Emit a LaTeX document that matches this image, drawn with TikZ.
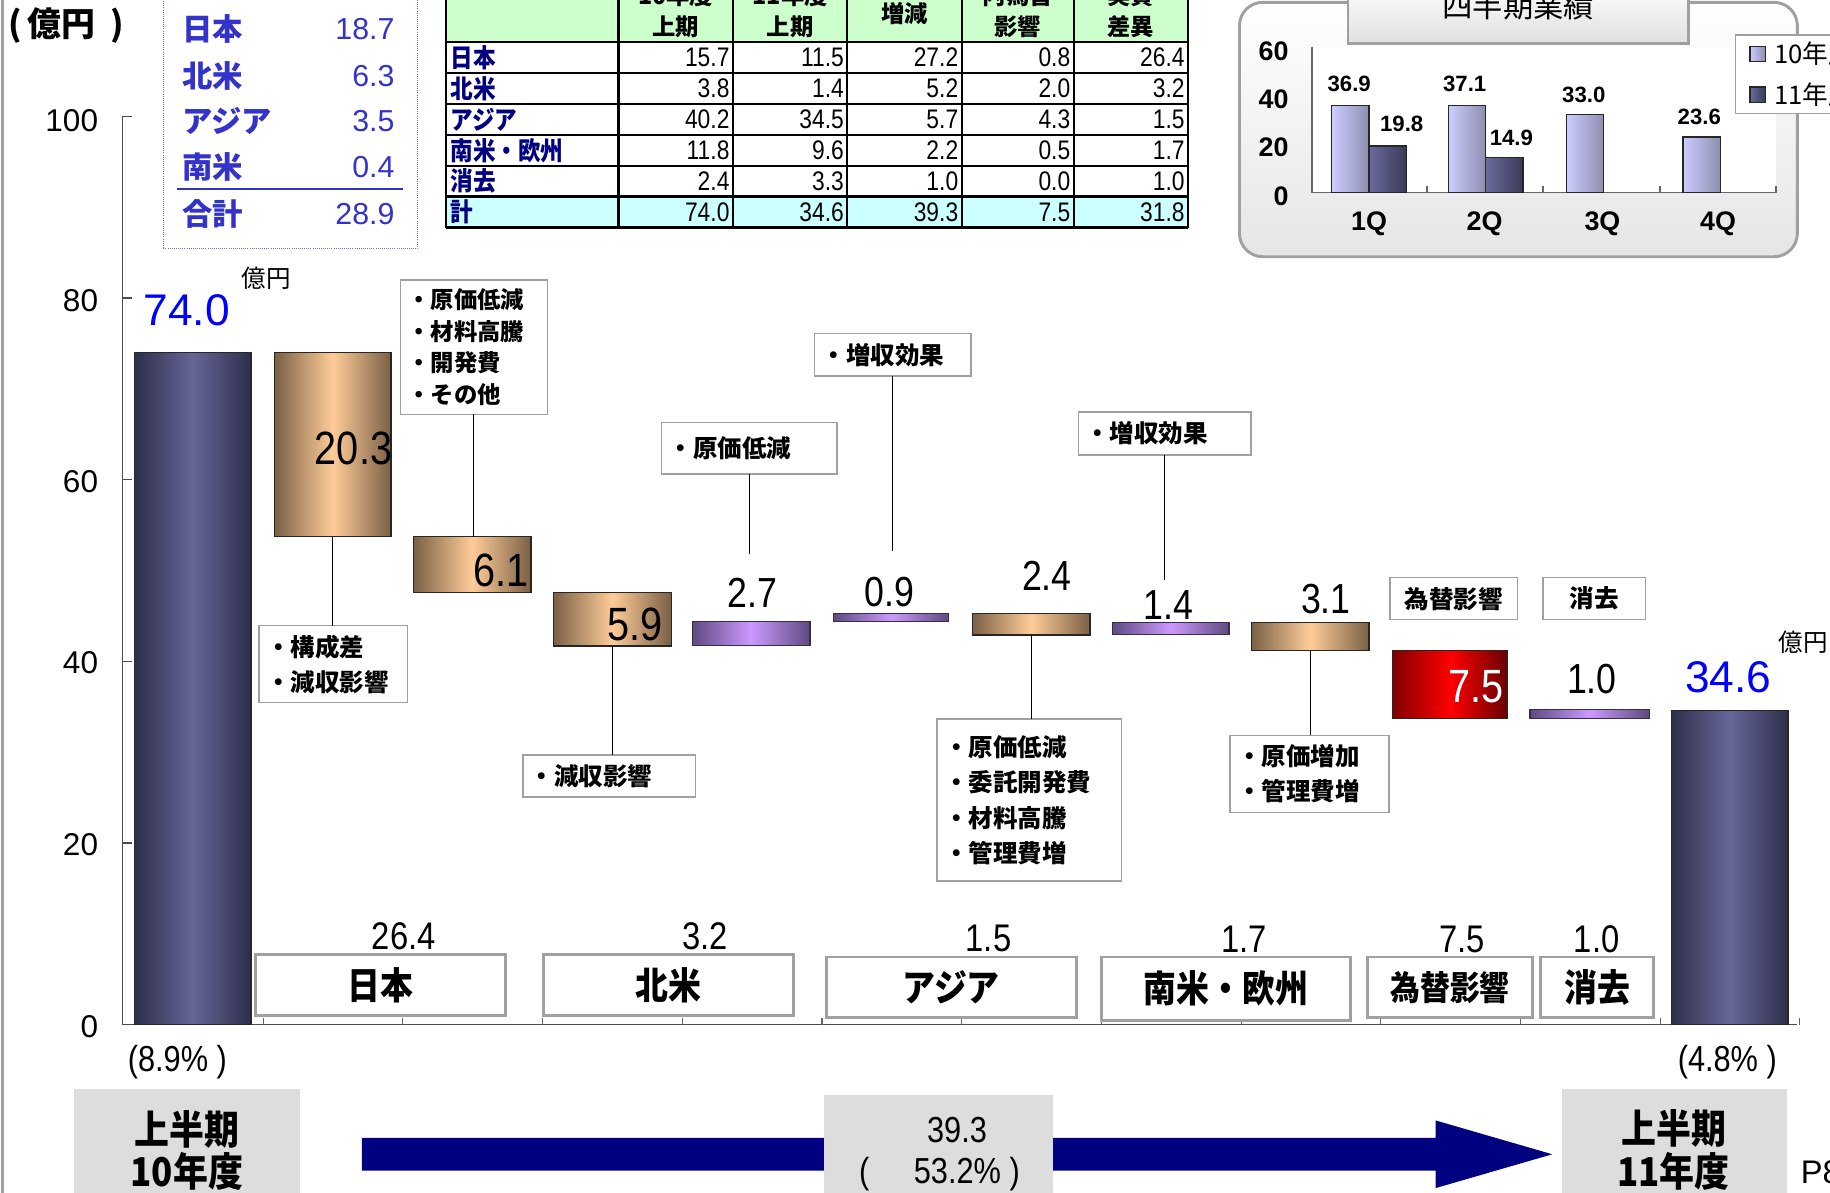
\documentclass[tikz,border=0pt]{standalone}
\usepackage{fontspec}
\setmainfont{Liberation Sans}
\newfontfamily\jpf{Noto Sans CJK JP}
\newfontfamily\jpnf[FakeStretch=0.88]{Noto Sans CJK JP}
\newfontfamily\narrowf[FakeStretch=0.85]{Liberation Sans}
\newcommand\fsz[2]{\fontsize{#1}{#2}\selectfont}
\usetikzlibrary{calc}
\definecolor{tanhi}{HTML}{FFCC99}
\definecolor{tanlo}{HTML}{7A6045}
\definecolor{navyhi}{HTML}{666699}
\definecolor{navylo}{HTML}{2E2E4A}
\definecolor{purhi}{HTML}{CC99FF}
\definecolor{purlo}{HTML}{5E4A80}
\definecolor{redhi}{HTML}{FF0000}
\definecolor{redlo}{HTML}{800000}
\definecolor{bxgray}{HTML}{A0A0A0}
\definecolor{bluetxt}{HTML}{3333CC}
\definecolor{tblname}{HTML}{000080}
\definecolor{hdrgreen}{HTML}{CCFFCC}
\definecolor{totcyan}{HTML}{CCFFFF}
\definecolor{graybox}{HTML}{DDDDDD}
\definecolor{qlight}{HTML}{CCCCFF}
\definecolor{qlightlo}{HTML}{8E8EB0}
\definecolor{qdark}{HTML}{6A6A9C}
\definecolor{qdarklo}{HTML}{3A3A58}
\definecolor{arrownavy}{HTML}{000080}
\definecolor{purebl}{HTML}{0000FF}
\begin{document}
\begin{tikzpicture}[x=1pt,y=-1pt,
  every node/.style={inner sep=0pt, outer sep=0pt},
  bar/.style={draw=black!85, line width=1pt, anchor=north west},
  navybar/.style={bar, left color=navylo, right color=navylo, middle color=navyhi},
  tanbar/.style={bar, left color=tanlo, right color=tanlo, middle color=tanhi},
  purbar/.style={bar, draw=purlo!60!black, left color=purlo, right color=purlo, middle color=purhi},
  redbar/.style={bar, left color=redlo, right color=redlo!120, middle color=redhi},
  annbox/.style={draw=bxgray, line width=1.2pt, fill=white, anchor=north west, inner xsep=6pt, inner ysep=0pt, align=left, font=\jpf\bfseries\fsz{21}{30}},
  catbox/.style={draw=bxgray, line width=2.5pt, fill=white, anchor=north west, font=\jpnf\bfseries\fsz{32}{32}},
  conn/.style={black, line width=0.8pt},
  val/.style={font=\narrowf\fsz{36}{36}},
  inval/.style={font=\narrowf\fsz{40}{40}, anchor=east},
  catval/.style={font=\narrowf\fsz{33}{33}},
  ylab/.style={font=\fsz{27}{27}, anchor=east},
  tnum/.style={font=\narrowf\fsz{23}{23}, anchor=east},
  thdr/.style={font=\jpf\bfseries\fsz{20}{20}},
  qlab/.style={font=\bfseries\fsz{19}{19}},
  qax/.style={font=\bfseries\fsz{23}{23}, anchor=east},
  qlbar/.style={draw=black!85, line width=1pt, anchor=south west, left color=qlight, right color=qlightlo, minimum width=32pt},
  qdbar/.style={draw=black!85, line width=1pt, anchor=south west, left color=qdark, right color=qdarklo, minimum width=32pt},
  bluelab/.style={font=\jpf\bfseries\fsz{26}{26}, text=bluetxt, anchor=west},
  blueval/.style={font=\fsz{26}{26}, text=bluetxt, anchor=east},
  grayb/.style={fill=graybox, anchor=north west, minimum height=110pt},
  graytxt/.style={font=\jpnf\bfseries\fsz{34}{34}}
]
\useasboundingbox (0,0) rectangle (1568,1022);

% left border
\draw[bxgray, line width=2.5pt] (2,-5) -- (2,1030);

% unit label
\node[font=\jpf\bfseries\fsz{29}{29}, anchor=west] (unit) at (7,22) {(\,億円\ \ )};

% blue summary box
\node[draw=bluetxt!70, densely dotted, line width=0.8pt, minimum width=218pt, minimum height=230pt, anchor=south west] (bluebox) at (140,213) {};
\node[bluelab] (bl1) at (156,25) {日本};   \node[blueval] (bv1) at (338,25) {18.7};
\node[bluelab] (bl2) at (156,65) {北米};   \node[blueval] (bv2) at (338,65) {6.3};
\node[bluelab] (bl3) at (156,104) {アジア}; \node[blueval] (bv3) at (338,104) {3.5};
\node[bluelab] (bl4) at (156,143) {南米};   \node[blueval] (bv4) at (338,143) {0.4};
\draw[bluetxt, line width=2pt] (152,162) -- (345,162);
\node[bluelab] (bl5) at (156,183) {合計};   \node[blueval] (bv5) at (338,183) {28.9};

% table
\fill[hdrgreen] (382,-15) rectangle (1018,36);
\fill[totcyan] (382,168.5) rectangle (1018,195);
\foreach \yy in {36,62.5,89,115.5,142,168.5,195}
  \draw[black, line width=2pt] (382,\yy) -- (1018,\yy);
\foreach \xx in {382,530,628,726,824,920,1018}
  \draw[black, line width=2pt] (\xx,-15) -- (\xx,195);
\node[thdr] (h1a) at (579,-4) {10年度}; \node[thdr] (h1b) at (579,23) {上期};
\node[thdr] (h2a) at (677,-4) {11年度}; \node[thdr] (h2b) at (677,23) {上期};
\node[thdr] (h3) at (775,12) {増減};
\node[thdr] (h4a) at (872,-4) {内為替}; \node[thdr] (h4b) at (872,23) {影響};
\node[thdr] (h5a) at (969,-4) {実質}; \node[thdr] (h5b) at (969,23) {差異};
\foreach \nm/\a/\b/\c/\d/\e [count=\r] in {日本/15.7/11.5/27.2/0.8/26.4, 北米/3.8/1.4/5.2/2.0/3.2, アジア/40.2/34.5/5.7/4.3/1.5, 南米・欧州/11.8/9.6/2.2/0.5/1.7, 消去/2.4/3.3/1.0/0.0/1.0, 計/74.0/34.6/39.3/7.5/31.8}{
  \pgfmathsetmacro\ry{36+26.5*(\r-0.5)}
  \node[font=\jpnf\bfseries\fsz{22}{22}, text=tblname, anchor=west] (tn\r) at (386,\ry) {\nm};
  \node[tnum] (ta\r) at (625,\ry) {\a};
  \node[tnum] (tb\r) at (723,\ry) {\b};
  \node[tnum] (tc\r) at (821,\ry) {\c};
  \node[tnum] (td\r) at (917,\ry) {\d};
  \node[tnum] (te\r) at (1015,\ry) {\e};
}

% quarterly panel
\node[draw=bxgray, line width=2.5pt, rounded corners=20pt, top color=white, bottom color=black!10, minimum width=478pt, minimum height=218pt, anchor=north west] (qpanel) at (1062,2) {};
\fill[white] (1124,40) rectangle (1522,165);
\node[draw=bxgray, line width=2.5pt, top color=white, bottom color=black!12, minimum width=292pt, minimum height=55pt, anchor=south west] (qtitle) at (1155,37) {};
\node[font=\jpf\fsz{26}{26}] (qtitletxt) at (1301,5) {四半期業績};
\draw[black!60, line width=1.5pt] (1124,40) -- (1124,165) -- (1522,165);
\foreach \xx in {1124,1223,1322,1422,1522} \draw[black!60, line width=1.5pt] (\xx,165) -- ++(0,-6);
\node[qax] (q60) at (1104,44) {60};
\node[qax] (q40) at (1104,85) {40};
\node[qax] (q20) at (1104,126) {20};
\node[qax] (q0) at (1104,168) {0};
\node[qlbar, minimum height=74.4pt] (q1l) at (1141,165) {};
\node[qdbar, minimum height=39.9pt] (q1d) at (1173,165) {};
\node[qlbar, minimum height=74.8pt] (q2l) at (1241,165) {};
\node[qdbar, minimum height=30.1pt] (q2d) at (1273,165) {};
\node[qlbar, minimum height=66.6pt] (q3l) at (1342,165) {};
\node[qlbar, minimum height=47.6pt] (q4l) at (1442,165) {};
\node[qlab] (ql1) at (1156,72) {36.9};
\node[qlab] (ql2) at (1201,106) {19.8};
\node[qlab] (ql3) at (1255,72) {37.1};
\node[qlab] (ql4) at (1295,118) {14.9};
\node[qlab] (ql5) at (1357,81) {33.0};
\node[qlab] (ql6) at (1456,100) {23.6};
\node[font=\bfseries\fsz{23}{23}] (qc1) at (1173,192) {1Q};
\node[font=\bfseries\fsz{23}{23}] (qc2) at (1272,192) {2Q};
\node[font=\bfseries\fsz{23}{23}] (qc3) at (1373,192) {3Q};
\node[font=\bfseries\fsz{23}{23}] (qc4) at (1472,192) {4Q};
\node[draw=bxgray, line width=1.2pt, fill=white, minimum width=110pt, minimum height=67pt, anchor=north west] (qleg) at (1487,30) {};
\node[draw=black!85, line width=1pt, left color=qlight, right color=qlightlo, minimum width=13pt, minimum height=13pt] (qls) at (1506,46) {};
\node[draw=black!85, line width=1pt, left color=qdark, right color=qdarklo, minimum width=13pt, minimum height=13pt] (qds) at (1506,81) {};
\node[font=\jpf\fsz{22}{22}, anchor=west] (qlt) at (1520,46) {10年度};
\node[font=\jpf\fsz{22}{22}, anchor=west] (qdt) at (1520,81) {11年度};

% main axis
\draw[black!70, line width=1pt] (105,99.6) -- (105,878) -- (1540,878);
\foreach \v in {20,40,60,80,100} \draw[black!70, line width=1pt] (105,{878-7.784*\v}) -- ++(8,0);
\foreach \i in {0,...,11} \draw[black!60, line width=1pt] ({225.5+119.7*\i},878) -- ++(0,-6);
\node[ylab] (y100) at (84,103) {100};
\node[ylab] (y80) at (84,258) {80};
\node[ylab] (y60) at (84,413) {60};
\node[ylab] (y40) at (84,568) {40};
\node[ylab] (y20) at (84,724) {20};
\node[ylab] (y0) at (84,880) {0};

% bars
\node[navybar, minimum width=100pt, minimum height=576pt] (b1) at (115,302) {};
\node[tanbar, minimum width=100pt, minimum height=158pt] (b2) at (235,302) {};
\node[tanbar, minimum width=101pt, minimum height=47.5pt] (b3) at (354,460) {};
\node[tanbar, minimum width=101pt, minimum height=46pt] (b4) at (474,507.5) {};
\node[purbar, minimum width=101pt, minimum height=21pt] (b5) at (593,532.4) {};
\node[purbar, minimum width=99pt, minimum height=7pt] (b6) at (714,525.4) {};
\node[tanbar, minimum width=101pt, minimum height=18.7pt] (b7) at (833,525.4) {};
\node[purbar, minimum width=100pt, minimum height=10.8pt] (b8) at (953,533.2) {};
\node[tanbar, minimum width=101pt, minimum height=24.1pt] (b9) at (1072,533.2) {};
\node[redbar, minimum width=99pt, minimum height=58.4pt] (b10) at (1193,557.3) {};
\node[purbar, minimum width=102pt, minimum height=7.8pt] (b11) at (1311,607.9) {};
\node[navybar, minimum width=100pt, minimum height=269.3pt] (b12) at (1432,608.7) {};

% bar labels
\node[font=\fsz{38}{38}, text=purebl] (l1) at (160,266) {74.0};
\node[font=\jpf\fsz{21}{21}] (u1) at (228,238) {億円};
\node[inval] (l2) at (336,384) {20.3};
\node[inval] (l3) at (453,489) {6.1};
\node[inval] (l4) at (568,535) {5.9};
\node[val] (l5) at (645,508) {2.7};
\node[val] (l6) at (762,507) {0.9};
\node[val] (l7) at (897,493) {2.4};
\node[val] (l8) at (1001,518) {1.4};
\node[val] (l9) at (1136,513) {3.1};
\node[inval, text=white] (l10) at (1288,588) {7.5};
\node[val] (l11) at (1364,582) {1.0};
\node[font=\fsz{38}{38}, text=purebl] (l12) at (1481,580) {34.6};
\node[font=\jpf\fsz{21}{21}] (u2) at (1545,550) {億円};

% annotation boxes
\node[annbox, font=\jpf\bfseries\fsz{20}{27}, text width=114pt, minimum height=115pt] (annA) at (343,240) {・原価低減\\・材料高騰\\・開発費\\・その他};
\node[annbox, text width=115pt, minimum height=66pt] (annB) at (222,536) {・構成差\\・減収影響};
\node[annbox, text width=136pt, minimum height=36pt] (annC) at (448,647) {・減収影響};
\node[annbox, text width=138pt, minimum height=44pt] (annD) at (567,362) {・原価低減};
\node[annbox, text width=122pt, minimum height=36pt] (annE) at (698,286) {・増収効果};
\node[annbox, text width=136pt, minimum height=37pt] (annF) at (924,353) {・増収効果};
\node[annbox, text width=146pt, minimum height=139pt, font=\jpf\bfseries\fsz{21}{30.4}] (annG) at (803,616) {・原価低減\\・委託開発費\\・材料高騰\\・管理費増};
\node[annbox, text width=124pt, minimum height=66pt] (annH) at (1054,630) {・原価増加\\・管理費増};
\node[annbox, align=center, inner xsep=0pt, minimum width=109pt, minimum height=36pt] (annI) at (1191,495) {為替影響};
\node[annbox, align=center, inner xsep=0pt, minimum width=88pt, minimum height=36pt] (annJ) at (1322,495) {消去};

% connectors
\coordinate (dEnd) at (641,475);
\coordinate (eEnd) at (765,472);
\coordinate (fEnd) at (1000,497);
\draw[conn] (annA.south) -- (annA.south |- b3.north);
\draw[conn] (b2.south) -- (b2.south |- annB.north);
\draw[conn] (b4.south) -- (b4.south |- annC.north);
\draw[conn] (annD.south) -- (annD.south |- dEnd);
\draw[conn] (annE.south) -- (annE.south |- eEnd);
\draw[conn] (annF.south) -- (annF.south |- fEnd);
\draw[conn] (b7.south) -- (b7.south |- annG.north);
\draw[conn] (b9.south) -- (b9.south |- annH.north);

% category boxes
\node[catbox, minimum width=214pt, minimum height=52pt] (c1) at (219,818) {日本};
\node[catbox, minimum width=214pt, minimum height=52pt] (c2) at (466,818) {北米};
\node[catbox, minimum width=214pt, minimum height=52pt] (c3) at (708,820) {アジア};
\node[catbox, minimum width=213pt, minimum height=54pt] (c4) at (944,820) {南米・欧州};
\node[catbox, minimum width=141pt, minimum height=52pt, font=\jpnf\bfseries\fsz{29}{29}] (c5) at (1172,820) {為替影響};
\node[catbox, minimum width=97pt, minimum height=52pt] (c6) at (1320,820) {消去};
\node[catval] (cv1) at (346,802) {26.4};
\node[catval] (cv2) at (604,802) {3.2};
\node[catval] (cv3) at (847,804) {1.5};
\node[catval] (cv4) at (1066,805) {1.7};
\node[catval] (cv5) at (1253,805) {7.5};
\node[catval] (cv6) at (1368,805) {1.0};

% ratios
\node[font=\narrowf\fsz{31}{31}] (r1) at (152,910) {(8.9\% )};
\node[font=\narrowf\fsz{31}{31}] (r2) at (1480,910) {(4.8\% )};

% bottom arrow and boxes
\fill[arrownavy] (310,975) -- (1230,975) -- (1230,960) -- (1330,989) -- (1230,1018) -- (1230,1003) -- (310,1003) -- cycle;
\node[grayb, minimum width=194pt] (g1) at (63,933) {};
\node[grayb, minimum width=196pt] (g2) at (706,938) {};
\node[grayb, minimum width=193pt] (g3) at (1338,933) {};
\node[graytxt] (g1a) at (160,968) {上半期};
\node[graytxt] (g1b) at (160,1004) {10年度};
\node[font=\narrowf\fsz{31}{31}] (g2a) at (820,968) {39.3};
\node[font=\narrowf\fsz{31}{31}] (g2b) at (805,1006) {(\hspace{38pt}53.2\% )};
\node[graytxt] (g3a) at (1434,967) {上半期};
\node[graytxt] (g3b) at (1434,1004) {11年度};
\node[font=\fsz{28}{28}, anchor=west] (pg) at (1543,1004) {P8};
\end{tikzpicture}
\end{document}
